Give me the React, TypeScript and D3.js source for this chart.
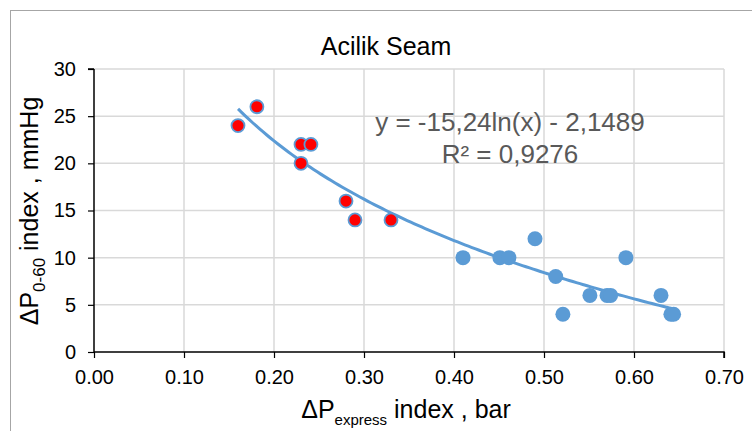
import React, { useEffect, useRef } from 'react';
import * as d3 from 'd3';

// red points (low express index) and blue points
const redX = [0.16, 0.181, 0.23, 0.241, 0.23, 0.28, 0.29, 0.33];
const redY = [24, 26, 22, 22, 20, 16, 14, 14];
const blueX = [0.41, 0.451, 0.461, 0.49, 0.513, 0.521, 0.551, 0.57, 0.574, 0.591, 0.63, 0.641, 0.644];
const blueY = [10, 10, 10, 12, 8, 4, 6, 6, 6, 10, 6, 4, 4];

// log trendline y = a*ln(x) + b
const trendA = -15.24;
const trendB = -2.1489;
const trendRange = [0.16, 0.644];

const xTicks = [0, 0.1, 0.2, 0.3, 0.4, 0.5, 0.6, 0.7];
const yTicks = [0, 5, 10, 15, 20, 25, 30];

const BLUE = '#5B9BD5';

const App = () => {
  const ref = useRef<SVGSVGElement>(null);

  useEffect(() => {
    const svg = d3.select(ref.current);
    svg.selectAll('*').remove();

    const margin = { top: 69, left: 94 };
    const width = 630;
    const height = 283;

    // outer chart frame
    svg.append('rect')
      .attr('x', 10.5).attr('y', 10.5)
      .attr('width', 800).attr('height', 500)
      .attr('fill', 'white')
      .attr('stroke', '#A6A6A6').attr('stroke-width', 1);

    svg.append('text')
      .attr('x', 386).attr('y', 55)
      .attr('text-anchor', 'middle')
      .attr('font-size', 25)
      .attr('fill', '#000')
      .text('Acilik Seam');

    const g = svg.append('g').attr('transform', `translate(${margin.left},${margin.top})`);

    const x = d3.scaleLinear().domain([0, 0.7]).range([0, width]);
    const y = d3.scaleLinear().domain([0, 30]).range([height, 0]);

    // grid
    g.append('g').selectAll('line').data(yTicks.slice(1)).enter().append('line')
      .attr('x1', 0).attr('x2', width)
      .attr('y1', d => y(d)).attr('y2', d => y(d))
      .attr('stroke', '#D9D9D9').attr('stroke-width', 1.5);
    g.append('g').selectAll('line').data(xTicks.slice(1)).enter().append('line')
      .attr('x1', d => x(d)).attr('x2', d => x(d))
      .attr('y1', 0).attr('y2', height)
      .attr('stroke', '#D9D9D9').attr('stroke-width', 1.5);

    // axes
    const yAxis = g.append('g')
      .call(d3.axisLeft(y).tickValues(yTicks).tickSize(6).tickPadding(12).tickFormat(d3.format('d')));
    const xAxis = g.append('g')
      .attr('transform', `translate(0,${height})`)
      .call(d3.axisBottom(x).tickValues(xTicks).tickSize(6).tickPadding(12).tickFormat(d3.format('.2f')));
    [yAxis, xAxis].forEach(a => {
      a.select('.domain').attr('stroke', '#000').attr('stroke-width', 1.5);
      a.selectAll('.tick line').attr('stroke', '#000').attr('stroke-width', 1.2);
      a.selectAll('.tick text')
        .attr('font-family', 'Liberation Sans, Arial, sans-serif')
        .attr('font-size', 20).attr('fill', '#000');
    });
    yAxis.select('.domain').attr('d', `M0,${height}V0M-6,0H0`);
    xAxis.select('.domain').attr('d', `M0,0H${width}V6`);

    // trendline
    const trendX = d3.range(trendRange[0], trendRange[1] + 0.001, 0.004);
    const line = d3.line<number>()
      .x(d => x(d))
      .y(d => y(trendA * Math.log(d) + trendB))
      .curve(d3.curveBasis);
    g.append('path')
      .datum(trendX)
      .attr('fill', 'none')
      .attr('stroke', BLUE)
      .attr('stroke-width', 3)
      .attr('d', line);

    // points
    g.append('g').selectAll('circle').data(blueX).enter().append('circle')
      .attr('cx', d => x(d)).attr('cy', (d, i) => y(blueY[i]))
      .attr('r', 7.5).attr('fill', BLUE);
    g.append('g').selectAll('circle').data(redX).enter().append('circle')
      .attr('cx', d => x(d)).attr('cy', (d, i) => y(redY[i]))
      .attr('r', 6.5).attr('fill', '#FF0000')
      .attr('stroke', BLUE).attr('stroke-width', 1.8);

    // equation
    const eq = svg.append('text')
      .attr('text-anchor', 'middle')
      .attr('font-size', 26)
      .attr('fill', '#595959');
    eq.append('tspan').attr('x', 510).attr('y', 131).text('y = -15,24ln(x) - 2,1489');
    eq.append('tspan').attr('x', 510).attr('y', 163).text('R² = 0,9276');

    // axis titles
    const xt = svg.append('text')
      .attr('x', 406).attr('y', 418)
      .attr('text-anchor', 'middle')
      .attr('font-size', 25)
      .attr('fill', '#000');
    xt.append('tspan').text('ΔP');
    xt.append('tspan').attr('font-size', 15).attr('dy', 7).text('express');
    xt.append('tspan').attr('dy', -7).text(' index , bar');

    const yt = svg.append('text')
      .attr('transform', 'translate(38,211) rotate(-90)')
      .attr('text-anchor', 'middle')
      .attr('font-size', 25)
      .attr('fill', '#000');
    yt.append('tspan').text('ΔP');
    yt.append('tspan').attr('font-size', 17).attr('dy', 7).text('0-60');
    yt.append('tspan').attr('dy', -7).text(' index , mmHg');
  }, []);

  return (
    <svg
      ref={ref}
      width={752}
      height={431}
      style={{ position: 'fixed', top: 0, left: 0, fontFamily: 'Liberation Sans, Arial, sans-serif', background: 'white' }}
    />
  );
};

export default App;
